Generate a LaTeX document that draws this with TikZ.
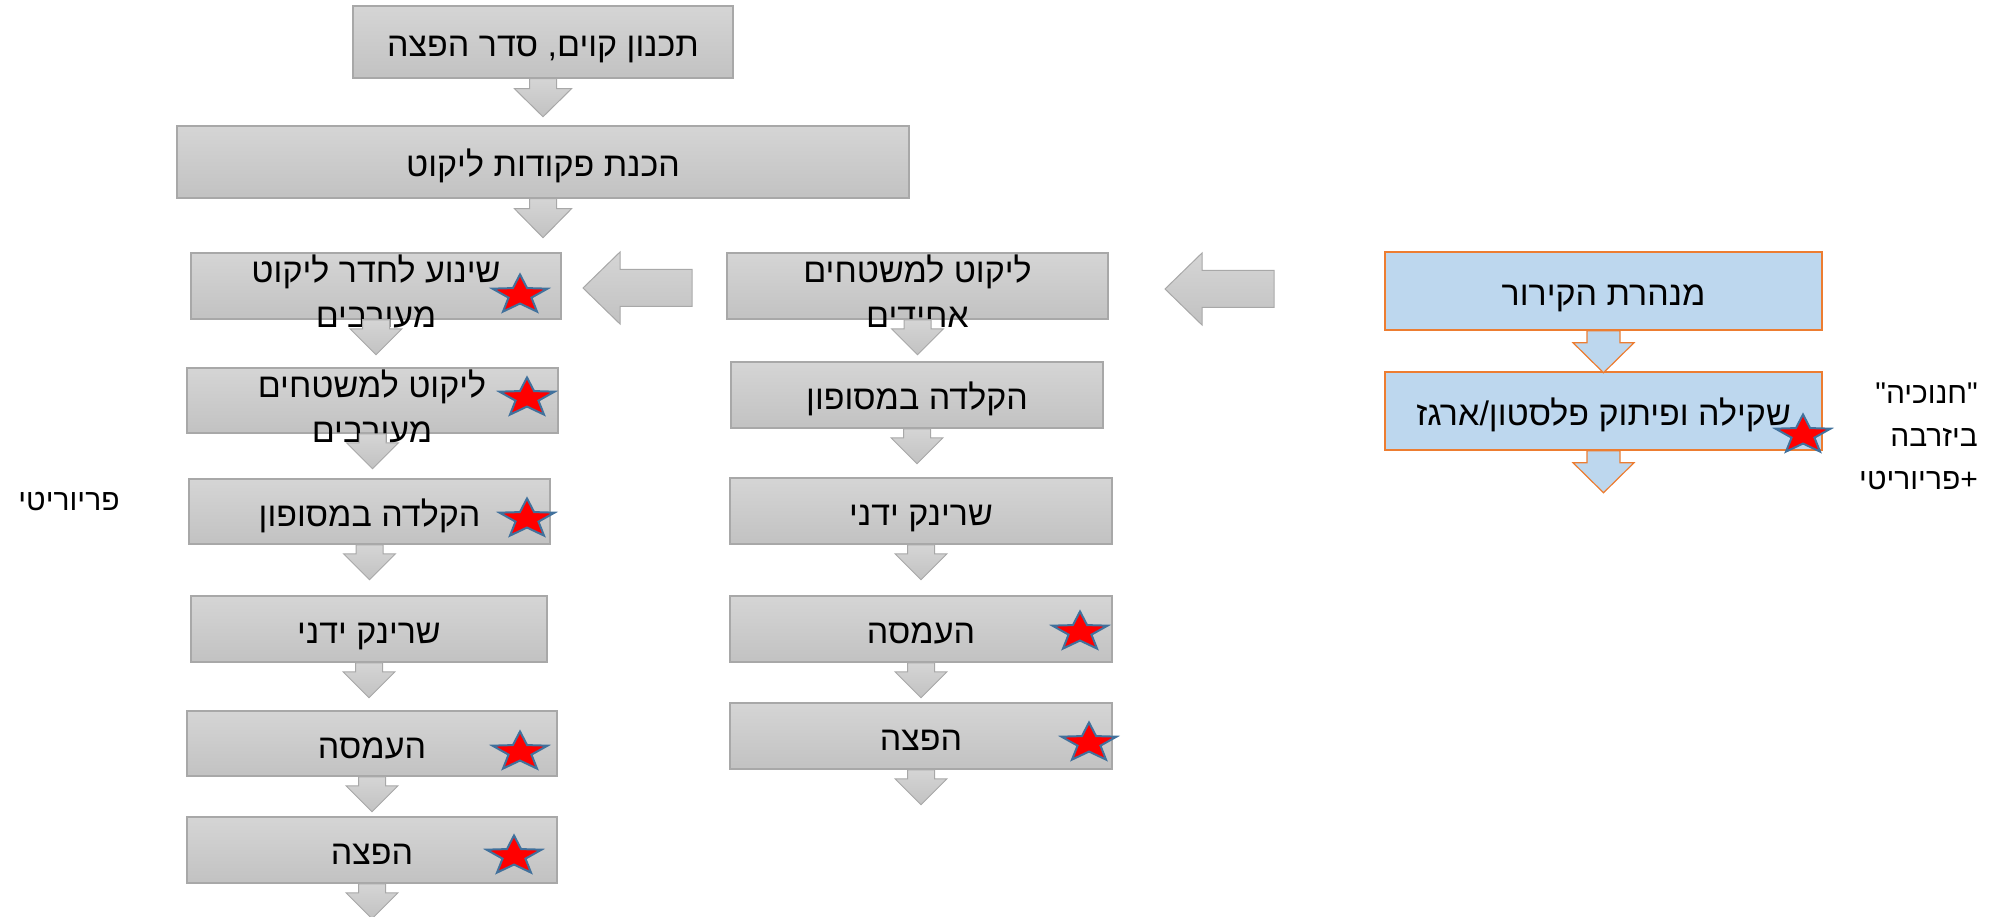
\documentclass[tikz,border=0pt]{standalone}
\usepackage{fontspec}
\setmainfont{Liberation Sans}
\newfontfamily\hebfont[Script=Hebrew]{Liberation Sans}
\TeXXeTstate=1
\usetikzlibrary{shapes.geometric}

\definecolor{boxtop}{HTML}{D5D5D5}
\definecolor{boxbot}{HTML}{C2C2C2}
\definecolor{boxline}{HTML}{A8A8A8}
\definecolor{blufill}{HTML}{BDD7EE}
\definecolor{orgline}{HTML}{ED7D31}
\definecolor{starline}{HTML}{41719C}

\newcommand{\heb}[1]{{\hebfont\beginR #1\endR}}
% block arrow pointing down from a node: [style]{node}{stem half}{head half}{stem length}{head length}
\newcommand{\dnarrow}[6][garrow]{%
  \path[#1] (#2.south) ++(-#3,0) -- ++(0,#5) -- ++(#3-#4,0) -- ++(#4,#6)
    -- ++(#4,-#6) -- ++(#3-#4,0) -- ++(0,-#5) -- cycle;}
% block arrow pointing left, from its tip
\newcommand{\lfarrow}[1]{%
  \path[garrow] (#1) -- ++(37,-36) -- ++(0,17.5) -- ++(72,0) -- ++(0,37)
    -- ++(-72,0) -- ++(0,17.5) -- cycle;}

\begin{document}
\begin{tikzpicture}[x=1pt,y=-1pt,
    font=\fontsize{34}{45}\selectfont,
    gbox/.style={draw=boxline,line width=1.5,top color=boxtop,bottom color=boxbot,inner sep=0pt,
      text height=33pt,text depth=4pt},
    bbox/.style={draw=orgline,line width=1.5,fill=blufill,inner sep=0pt,minimum width=437,minimum height=78,
      text height=33pt,text depth=4pt},
    garrow/.style={draw=boxline,line width=1,top color=boxtop,bottom color=boxbot},
    barrow/.style={draw=orgline,line width=1.2,fill=blufill},
    txt/.style={align=center,inner sep=0pt},
    note/.style={font=\fontsize{30}{43}\selectfont,inner sep=0pt},
    redstar/.style={star,star points=5,star point ratio=2.4,minimum size=41,inner sep=0pt,
      fill=red,draw=starline,line width=2,xscale=1.41}]
    \useasboundingbox (0,0) rectangle (2005,917);

    % top of the flow
    \node[gbox,minimum width=380,minimum height=72] (plan) at (543,42) {\heb{תכנון קוים, סדר הפצה}};
    \node[gbox,minimum width=732,minimum height=72] (orders) at (543,162) {\heb{הכנת פקודות ליקוט}};

    % left column: mixed pallets
    \node[gbox,minimum width=370,minimum height=66] (mix1) at (376,286) {};
    \node[txt] (mix1t) at (376,291) {\heb{שינוע לחדר ליקוט}\\\heb{מעורבים}};
    \node[gbox,minimum width=371,minimum height=65] (mix2) at (372.5,400.5) {};
    \node[txt] (mix2t) at (372,406) {\heb{ליקוט למשטחים}\\\heb{מעורבים}};
    \node[gbox,minimum width=361,minimum height=65] (mix3) at (369.5,511.5) {\heb{הקלדה במסופון}};
    \node[gbox,minimum width=356,minimum height=66] (mix4) at (369,629) {\heb{שרינק ידני}};
    \node[gbox,minimum width=370,minimum height=65] (mix5) at (372,743.5) {\heb{העמסה}};
    \node[gbox,minimum width=370,minimum height=66] (mix6) at (372,850) {\heb{הפצה}};

    % middle column: uniform pallets
    \node[gbox,minimum width=381,minimum height=66] (uni1) at (917.5,286) {};
    \node[txt] (uni1t) at (917.5,291) {\heb{ליקוט למשטחים}\\\heb{אחידים}};
    \node[gbox,minimum width=372,minimum height=66] (uni2) at (917,395) {\heb{הקלדה במסופון}};
    \node[gbox,minimum width=382,minimum height=66] (uni3) at (921,511) {\heb{שרינק ידני}};
    \node[gbox,minimum width=382,minimum height=66] (uni4) at (921,629) {\heb{העמסה}};
    \node[gbox,minimum width=382,minimum height=66] (uni5) at (921,736) {\heb{הפצה}};

    % right column: cooling tunnel
    \node[bbox] (tunnel) at (1603.5,291) {\heb{מנהרת הקירור}};
    \node[bbox] (weigh) at (1603.5,411) {\heb{שקילה ופיתוק פלסטון/ארגז}};

    % side notes
    \node[note] (prio) at (69,502) {\heb{פריוריטי}};
    \node[note,align=right,anchor=east] (hanuka) at (1978,436)
      {\heb{"חנוכיה"}\\\heb{ביזרבה}\\\heb{+פריוריטי}};

    % stars
    \node[redstar] (s1) at (520,295) {};
    \node[redstar] (s2) at (527,398) {};
    \node[redstar] (s3) at (527,519) {};
    \node[redstar] (s4) at (520,752) {};
    \node[redstar] (s5) at (514,856) {};
    \node[redstar] (s6) at (1080,632) {};
    \node[redstar] (s7) at (1089,743) {};
    \node[redstar] (s8) at (1803,435) {};

    % arrows
    \dnarrow{plan}{13.5}{28.5}{10}{28}
    \dnarrow{orders}{13.5}{28.5}{10}{29}
    \foreach \n in {mix1,mix2,mix3,mix4,mix5,mix6,uni1,uni2,uni3,uni4,uni5}
      {\dnarrow{\n}{13.5}{26}{9}{26}}
    \dnarrow[barrow]{tunnel}{16.5}{30.5}{12}{30}
    \dnarrow[barrow]{weigh}{16.5}{30.5}{12}{30}
    \coordinate (tipl) at (583,288);
    \coordinate (tipr) at (1165,289);
    \lfarrow{tipl}
    \lfarrow{tipr}
\end{tikzpicture}
\end{document}
